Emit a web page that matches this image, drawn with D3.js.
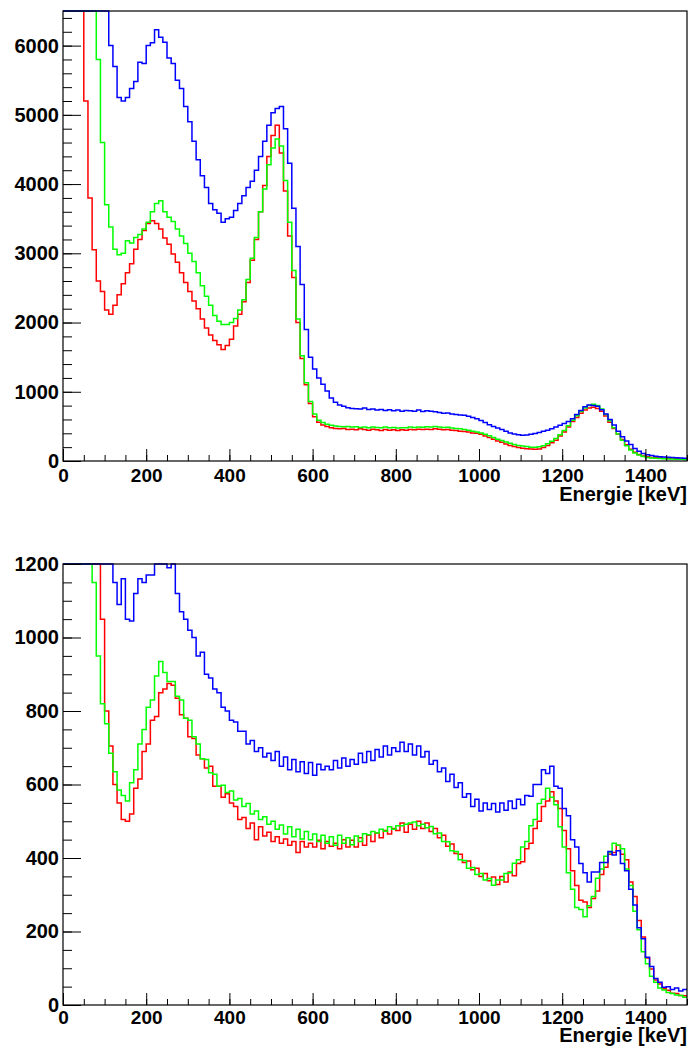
<!DOCTYPE html>
<html lang="en">
<head>
<meta charset="UTF-8">
<title>Energiespektren</title>
<style>
    body {
        margin: 0;
        background: #fff;
    }

    svg {
        display: block;
    }

    text {
        font-family: "Liberation Sans", Arial, sans-serif;
        font-weight: bold;
        fill: #000;
    }

    .hist {
        fill: none;
        stroke-width: 1.5;
    }
</style>
</head>
<body>
<svg id="chart" width="691" height="1050"></svg>

<script src="https://d3js.org/d3.v7.min.js"></script>
<script>
    // bins of 10 keV from 0 to 1500 keV
    var binWidth = 10;
    var xMax = 1500;
    var xTicks = [0, 200, 400, 600, 800, 1000, 1200, 1400];
    var xTitle = "Energie [keV]";

    // upper spectrum
    var topTicks = [0, 1000, 2000, 3000, 4000, 5000, 6000];
    var topRed = [
        9000, 9000, 9000, 8500, 7000, 5200, 3800, 3050, 2600, 2450,
        2180, 2120, 2250, 2400, 2560, 2720, 2850, 3060, 3200, 3330,
        3430, 3470, 3430, 3350, 3220, 3130, 2990, 2870, 2720, 2580,
        2450, 2310, 2200, 2050, 1920, 1820, 1740, 1680, 1610, 1670,
        1760, 1950, 2120, 2300, 2580, 2900, 3200, 3600, 3980, 4400,
        4700, 4850, 4450, 3900, 3250, 2650, 2000, 1480, 1100, 830,
        640, 560, 520, 500, 480, 470, 465, 470, 455, 460,
        450, 465, 455, 445, 460, 450, 440, 455, 445, 450,
        440, 450, 445, 455, 450, 460, 455, 460, 455, 465,
        460, 450, 455, 445, 440, 430, 425, 420, 405, 400,
        385, 360, 340, 315, 290, 270, 245, 225, 210, 195,
        185, 178, 172, 170, 175, 195, 225, 265, 300, 360,
        420, 490, 570, 630, 690, 735, 765, 775, 760, 720,
        650, 560, 470, 390, 310, 235, 170, 125, 95, 72,
        60, 52, 46, 42, 40, 37, 35, 32, 30, 28
    ];
    var topGreen = [
        9000, 9000, 9000, 9000, 9000, 9000, 9000, 9000, 5800, 4600,
        3700, 3380, 3060, 2980, 3000, 3180, 3150, 3230, 3270, 3350,
        3450, 3600, 3720, 3760, 3600, 3520, 3460, 3350, 3250, 3140,
        3000, 2880, 2720, 2530, 2380, 2250, 2100, 2020, 1970, 1970,
        2000, 2060, 2180, 2330, 2620, 2930, 3230, 3600, 3930, 4280,
        4520, 4650, 4550, 4050, 3450, 2750, 2050, 1520, 1130, 860,
        680, 590, 555, 530, 515, 505, 500, 495, 500, 490,
        495, 485, 490, 480, 490, 485, 480, 490, 480, 485,
        478, 482, 480, 490, 485, 492, 488, 495, 490, 498,
        492, 485, 488, 478, 470, 465, 455, 445, 430, 420,
        405, 385, 365, 340, 315, 295, 275, 255, 240, 225,
        215, 208, 200, 198, 205, 220, 250, 285, 325, 380,
        440, 510, 590, 655, 715, 765, 800, 820, 800, 750,
        670, 580, 480, 390, 300, 220, 160, 115, 85, 65,
        52, 45, 40, 36, 33, 30, 28, 26, 24, 22
    ];
    var topBlue = [
        9000, 9000, 9000, 9000, 9000, 9000, 9000, 9000, 9000, 9000,
        6700, 6000, 5700, 5250, 5200, 5250, 5380, 5480, 5760, 5740,
        6000, 6040, 6230, 6120, 6050, 5820, 5740, 5500, 5380, 5120,
        4900, 4620, 4350, 4120, 3950, 3720, 3630, 3580, 3450, 3500,
        3520, 3620, 3720, 3830, 3950, 4040, 4200, 4400, 4620, 4850,
        5030, 5090, 5120, 4800, 4300, 3650, 3100, 2550, 1900, 1500,
        1330, 1200, 1110, 1010, 910, 850, 810, 790, 770, 760,
        755, 750, 765, 745, 750, 735, 745, 730, 740, 725,
        735, 720, 730, 725, 720, 735, 715, 725, 720, 710,
        700, 690, 695, 680, 670, 665, 660, 645, 630, 610,
        585, 555, 525, 500, 475, 455, 430, 405, 390, 378,
        372, 375, 385, 398, 410, 428, 445, 465, 490, 515,
        540, 570, 610, 670, 730, 785, 810, 800, 790, 740,
        680, 600, 520, 430, 350, 290, 240, 180, 140, 110,
        90, 78, 70, 62, 58, 54, 50, 46, 43, 40
    ];

    // lower spectrum
    var bottomTicks = [0, 200, 400, 600, 800, 1000, 1200];
    var bottomRed = [
        3000, 3000, 3000, 3000, 3000, 3000, 3000, 3000, 3000, 1050,
        800, 705, 600, 550, 505, 500, 520, 590, 615, 690,
        710, 775, 785, 850, 860, 875, 870, 835, 790, 780,
        730, 725, 680, 670, 645, 650, 595, 595, 565, 575,
        550, 540, 505, 510, 480, 495, 450, 485, 460, 470,
        445, 458, 440, 452, 435, 445, 415, 445, 430, 440,
        430, 448, 425, 445, 432, 440, 425, 450, 430, 448,
        430, 455, 435, 462, 445, 468, 455, 475, 465, 480,
        475, 495, 470, 492, 478, 500, 480, 495, 472, 480,
        455, 462, 432, 438, 412, 410, 388, 392, 368, 372,
        350, 358, 338, 348, 328, 350, 335, 362, 352, 385,
        390, 425, 440, 480, 500, 540, 555, 580, 555, 535,
        475, 425, 365, 325, 285, 280, 265, 290, 310, 355,
        375, 410, 415, 435, 410, 395, 335, 295, 230, 185,
        128, 98, 68, 57, 44, 40, 32, 31, 26, 25
    ];
    var bottomGreen = [
        3000, 3000, 3000, 3000, 3000, 3000, 3000, 1150, 950, 820,
        765, 685, 635, 585, 570, 555, 605, 640, 710, 750,
        810, 830, 895, 935, 905, 880, 880, 840, 830, 780,
        775, 730, 710, 670, 668, 632, 628, 595, 598, 578,
        582, 558, 562, 540, 548, 520, 528, 505, 512, 492,
        500, 478, 490, 465, 485, 458, 478, 452, 472, 450,
        465, 445, 462, 440, 458, 435, 462, 440, 455, 436,
        460, 445, 466, 463, 472, 468, 478, 473, 485, 478,
        488, 488, 492, 495, 498, 488, 492, 482, 486, 466,
        468, 445, 444, 420, 418, 395, 393, 372, 374, 355,
        358, 340, 344, 326, 340, 340, 358, 360, 386, 395,
        430, 445, 488, 505, 548, 560, 590, 565, 545, 485,
        430, 360, 315, 265, 260, 240, 270, 295, 345, 370,
        405, 415, 440, 435, 425, 370, 325, 255, 205, 145,
        112, 78, 62, 46, 41, 34, 31, 27, 26, 21
    ];
    var bottomBlue = [
        3000, 3000, 3000, 3000, 3000, 3000, 3000, 3000, 3000, 3000,
        3000, 3000, 1150, 1090, 1160, 1050, 1045, 1120, 1160, 1150,
        1170, 1170, 1210, 1200, 1240, 1190, 1200, 1120, 1070, 1050,
        1020, 1000, 950, 960, 900, 890, 860, 850, 810, 800,
        775, 770, 745, 745, 710, 720, 690, 700, 675, 685,
        665, 690, 650, 675, 640, 668, 635, 662, 630, 660,
        625, 655, 640, 650, 640, 665, 645, 672, 650, 668,
        655, 685, 660, 690, 665, 695, 675, 705, 680, 700,
        690, 715, 690, 710, 680, 705, 675, 690, 655, 665,
        635, 645, 608, 628, 592, 605, 565, 575, 540, 560,
        528, 550, 532, 548, 525, 550, 530, 555, 535, 560,
        545, 570, 568, 600, 600, 640, 630, 650, 595, 590,
        535, 515, 450, 430, 385, 360, 335, 362, 362, 388,
        388, 418, 408, 420, 385, 365, 315, 272, 210, 180,
        130, 105, 72, 62, 48, 50, 42, 46, 38, 42
    ];

    var panels = [
        {top: 11, bottom: 461, yMax: 6500, yTicks: topTicks, yMinor: 200, labelPad: 8, titleY: 501,
            red: topRed, green: topGreen, blue: topBlue},
        {top: 564, bottom: 1005, yMax: 1200, yTicks: bottomTicks, yMinor: 50, labelPad: 6, titleY: 1042,
            red: bottomRed, green: bottomGreen, blue: bottomBlue}
    ];

    var left = 63, right = 687;
    var svg = d3.select("#chart");

    var x = d3.scaleLinear().domain([0, xMax]).range([left, right]);

    panels.forEach(function (p, i) {
        var y = d3.scaleLinear()
            .domain([0, p.yMax])
            .range([p.bottom, p.top])
            .clamp(true);

        var clipId = "clip" + i;
        svg.append("clipPath").attr("id", clipId)
            .append("rect")
            .attr("x", left - 1)
            .attr("y", p.top - 1)
            .attr("width", right - left + 2)
            .attr("height", p.bottom - p.top + 2);

        var line = d3.line()
            .x(function (d) { return x(d[0]); })
            .y(function (d) { return y(d[1]); })
            .curve(d3.curveStepAfter);

        var g = svg.append("g").attr("clip-path", "url(#" + clipId + ")");
        [[p.red, "#ff0000"], [p.green, "#00ff00"], [p.blue, "#0000ff"]].forEach(function (s) {
            var pts = s[0].map(function (v, k) { return [k * binWidth, v]; });
            pts.push([xMax, s[0][s[0].length - 1]]);
            g.append("path")
                .attr("class", "hist")
                .attr("d", line(pts))
                .attr("stroke", s[1]);
        });

        // x axis, ticks pointing into the frame
        svg.append("g")
            .attr("transform", "translate(0," + p.bottom + ")")
            .call(d3.axisBottom(x).tickValues(d3.range(0, xMax + 1, 50)).tickSize(-6).tickFormat(""))
            .call(function (a) { a.select(".domain").remove(); });
        svg.append("g")
            .attr("transform", "translate(0," + p.bottom + ")")
            .call(d3.axisBottom(x).tickValues(xTicks).tickSize(-12).tickPadding(p.labelPad).tickFormat(d3.format("d")))
            .call(function (a) {
                a.select(".domain").remove();
                a.selectAll("text").style("font-size", "19px");
            });

        // y axis
        svg.append("g")
            .attr("transform", "translate(" + left + ",0)")
            .call(d3.axisLeft(y).tickValues(d3.range(0, p.yMax + 1, p.yMinor)).tickSize(-9).tickFormat(""))
            .call(function (a) { a.select(".domain").remove(); });
        svg.append("g")
            .attr("transform", "translate(" + left + ",0)")
            .call(d3.axisLeft(y).tickValues(p.yTicks).tickSize(-18).tickPadding(4).tickFormat(d3.format("d")))
            .call(function (a) {
                a.select(".domain").remove();
                a.selectAll("text").style("font-size", "20px");
            });

        svg.selectAll(".tick line").attr("stroke", "#000");

        // frame
        svg.append("rect")
            .attr("x", left)
            .attr("y", p.top)
            .attr("width", right - left)
            .attr("height", p.bottom - p.top)
            .attr("fill", "none")
            .attr("stroke", "#000")
            .attr("stroke-width", 1.2);

        svg.append("text")
            .attr("x", right)
            .attr("y", p.titleY)
            .attr("text-anchor", "end")
            .style("font-size", "20px")
            .text(xTitle);
    });
</script>
</body>
</html>
